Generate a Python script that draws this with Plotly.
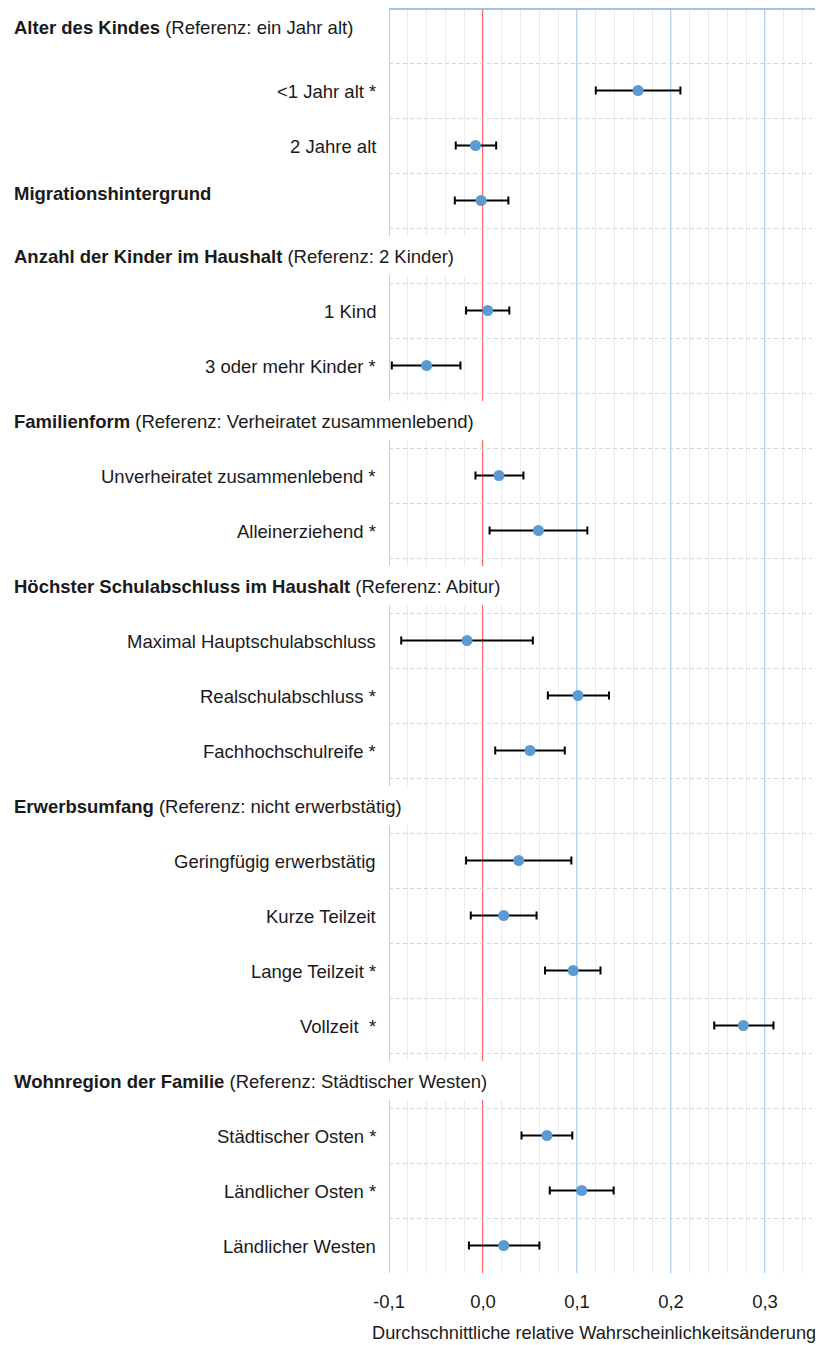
import plotly.graph_objects as go

# ---------------- data ----------------
row_labels = [
    "<b>Alter des Kindes</b> (Referenz: ein Jahr alt)",
    "&lt;1 Jahr alt *",
    "2 Jahre alt",
    "<b>Migrationshintergrund</b>",
    "<b>Anzahl der Kinder im Haushalt</b> (Referenz: 2 Kinder)",
    "1 Kind",
    "3 oder mehr Kinder *",
    "<b>Familienform</b> (Referenz: Verheiratet zusammenlebend)",
    "Unverheiratet zusammenlebend *",
    "Alleinerziehend *",
    "<b>Höchster Schulabschluss im Haushalt</b> (Referenz: Abitur)",
    "Maximal Hauptschulabschluss",
    "Realschulabschluss *",
    "Fachhochschulreife *",
    "<b>Erwerbsumfang</b> (Referenz: nicht erwerbstätig)",
    "Geringfügig erwerbstätig",
    "Kurze Teilzeit",
    "Lange Teilzeit *",
    "Vollzeit\u00a0 *",
    "<b>Wohnregion der Familie</b> (Referenz: Städtischer Westen)",
    "Städtischer Osten *",
    "Ländlicher Osten *",
    "Ländlicher Westen",
]
# row kind: "h" = header only (gap row), "hd" = header with data, "d" = data row
row_kinds = ["hd0", "d", "d", "hd", "h", "d", "d", "h", "d", "d", "h", "d", "d", "d",
             "h", "d", "d", "d", "d", "h", "d", "d", "d"]

estimates = [None, 0.165, -0.008, -0.002, None, 0.005, -0.060, None, 0.017, 0.059,
             None, -0.017, 0.101, 0.050, None, 0.038, 0.022, 0.096, 0.277, None,
             0.068, 0.105, 0.022]
lower = [None, 0.120, -0.029, -0.030, None, -0.018, -0.097, None, -0.008, 0.007,
         None, -0.087, 0.069, 0.013, None, -0.018, -0.013, 0.066, 0.246, None,
         0.041, 0.071, -0.015]
upper = [None, 0.210, 0.014, 0.027, None, 0.028, -0.024, None, 0.043, 0.111,
         None, 0.053, 0.134, 0.087, None, 0.094, 0.057, 0.125, 0.309, None,
         0.095, 0.139, 0.060]

x_tickvals = [-0.1, 0.0, 0.1, 0.2, 0.3]
x_ticktext = ["-0,1", "0,0", "0,1", "0,2", "0,3"]
x_title = "Durchschnittliche relative Wahrscheinlichkeitsänderung"

# ---------------- layout constants ----------------
OFF = 8                      # default body margin of the html page
W, H = 823 - OFF, 1345 - OFF
ML, MR, MT, MB = 389 - OFF, 11, 0, 72
PW = W - ML - MR
PH = H - MT - MB
XMIN, XMAX = -0.1, 0.35
FONT = "Liberation Sans, Arial, sans-serif"
FS = 18.5
TXT = "#1a1a1a"
BLUE = "#9DC3E6"
RED = "#FF6363"
MARK = "#5B9BD5"

n = len(row_labels)
ys = [i for i in range(n) if estimates[i] is not None]
xs = [estimates[i] for i in ys]
eplus = [upper[i] - estimates[i] for i in ys]
eminus = [estimates[i] - lower[i] for i in ys]

fig = go.Figure()
fig.add_trace(go.Scatter(
    x=xs, y=ys, mode="markers",
    marker=dict(color=MARK, size=11),
    error_x=dict(type="data", symmetric=False, array=eplus, arrayminus=eminus,
                 color="black", thickness=2, width=4),
    showlegend=False, hoverinfo="skip",
))


def page_px_to_x(px):
    return XMIN + (px - OFF - ML) / PW * (XMAX - XMIN)


shapes = []
# left axis line
shapes.append(dict(type="line", layer="between", xref="x", yref="paper",
                   x0=XMIN, x1=XMIN, y0=0, y1=1, line=dict(color=BLUE, width=1.5)))
# white bands for header gap rows
band = 0.355
for i, k in enumerate(row_kinds):
    if k == "h":
        shapes.append(dict(type="rect", layer="between", xref="paper", yref="y",
                           x0=-0.01, x1=1.01, y0=i - band, y1=i + band,
                           fillcolor="white", line=dict(width=0)))
# zero line
shapes.append(dict(type="line", layer="between", xref="x", yref="paper",
                   x0=0, x1=0, y0=0, y1=1, line=dict(color=RED, width=2)))
# major blue lines
for v in [0.1, 0.2, 0.3]:
    shapes.append(dict(type="line", layer="between", xref="x", yref="paper",
                       x0=v, x1=v, y0=0, y1=1, line=dict(color=BLUE, width=1.5)))
# header covers (label backgrounds), right ends in page pixels
cover_px = {4: 467, 7: 492, 10: 518, 14: 418, 19: 502}
for i, pxend in cover_px.items():
    shapes.append(dict(type="rect", layer="between", xref="x", yref="y",
                       x0=XMIN - 0.01, x1=page_px_to_x(pxend), y0=i - band, y1=i + band,
                       fillcolor="white", line=dict(width=0)))
# top line
shapes.append(dict(type="line", layer="above", xref="paper", yref="paper",
                   x0=0, x1=(W - ML) / PW, y0=1 - 1 / PH, y1=1 - 1 / PH,
                   line=dict(color=BLUE, width=2)))

annotations = []
for i, (lab, k) in enumerate(zip(row_labels, row_kinds)):
    if k.startswith("h"):
        ysh = -1
        if k == "hd0":
            ysh = 8
        elif k == "hd":
            ysh = 7
        annotations.append(dict(text=lab, xref="paper", yref="y", x=0, y=i,
                                xshift=-(ML - (12 - OFF)), yshift=ysh, xanchor="left",
                                yanchor="middle", showarrow=False,
                                font=dict(family=FONT, size=FS, color=TXT)))
    else:
        annotations.append(dict(text=lab, xref="paper", yref="y", x=0, y=i,
                                xshift=-11, yshift=-1, xanchor="right",
                                yanchor="middle", showarrow=False,
                                font=dict(family=FONT, size=FS, color=TXT)))
annotations.append(dict(text=x_title, xref="paper", yref="paper",
                        x=(818 - OFF - ML) / PW, y=-(1333 - OFF - (H - MB)) / PH,
                        xanchor="right", yanchor="middle", showarrow=False,
                        font=dict(family=FONT, size=18.2, color=TXT)))

fig.update_layout(
    width=W, height=H,
    margin=dict(l=ML, r=MR, t=MT, b=MB, pad=0),
    paper_bgcolor="white", plot_bgcolor="white",
    shapes=shapes, annotations=annotations,
    font=dict(family=FONT, size=FS, color=TXT),
    xaxis=dict(range=[XMIN, XMAX], tickmode="array", tickvals=x_tickvals,
               ticktext=x_ticktext, showgrid=False, zeroline=False, showline=False,
               ticks="", ticklabelstandoff=15,
               tickfont=dict(family=FONT, size=FS, color=TXT),
               minor=dict(showgrid=True, tick0=0, dtick=0.02, gridcolor="#EBEBEB",
                          gridwidth=1)),
    yaxis=dict(range=[n - 0.5, -0.5], tickmode="array",
               tickvals=[i + 0.5 for i in range(n - 1)], showticklabels=False,
               showgrid=True, gridcolor="#D6D6D6", gridwidth=1, griddash="4px,3px",
               zeroline=False, showline=False, ticks=""),
)

fig.write_html("out.html")
